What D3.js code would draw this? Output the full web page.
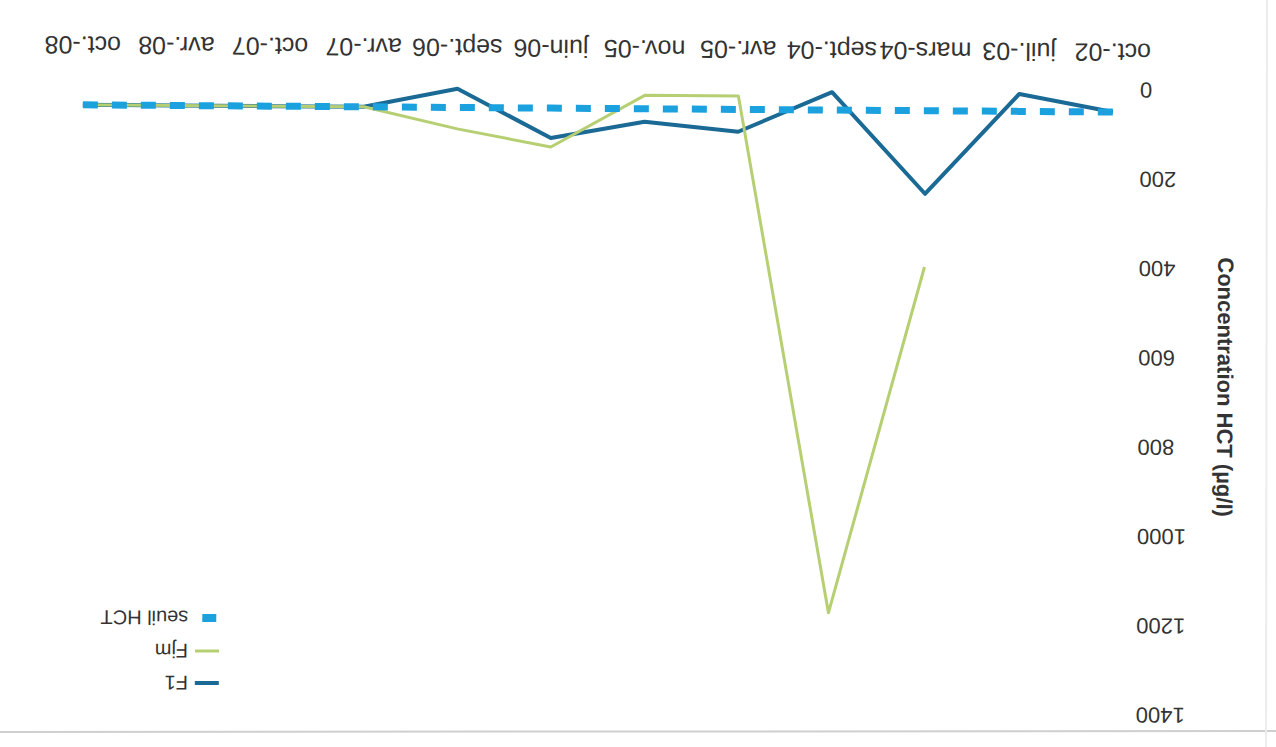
<!DOCTYPE html>
<html>
<head>
<meta charset="utf-8">
<script src="https://cdn.jsdelivr.net/npm/d3@7"></script>
<style>
  html, body { margin: 0; padding: 0; background: #ffffff; }
  svg { display: block; }
</style>
</head>
<body>
<div id="chart"></div>
<script>
// ---- data (read from the scanned, upside-down chart) ----
const categories = ["oct.-02","juil.-03","mars-04","sept.-04","avr.-05","nov.-05","juin-06","sept.-06","avr.-07","oct.-07","avr.-08","oct.-08"];
const seriesF1   = [50, 11, 236, 10, 100, 79, 117, 8, 50, 50, 50, 50];
const seriesFjm  = [null, null, 400, 1176, 20, 20, 137, 98, 50, 50, 50, 50];
const seriesSeuil = [50, 50, 50, 50, 50, 50, 50, 50, 50, 50, 50, 50];
const yTickValues = [0, 200, 400, 600, 800, 1000, 1200, 1400];
const seriesNames = ["F1", "Fjm", "seuil HCT"];
const yTitle = "Concentration HCT (µg/l)";

const W = 1276, H = 747;
const FONT = "'Liberation Sans', Arial, sans-serif";
const TEXT = "#333333";
const C_F1 = "#1b6a95", C_FJM = "#b6cf72", C_SEUIL = "#1ba1dd";

const svg = d3.select("#chart").append("svg")
  .attr("width", W).attr("height", H)
  .style("background", "#ffffff");

// scan frame remnants
svg.append("line").attr("x1", 0).attr("x2", W).attr("y1", 732).attr("y2", 731)
  .attr("stroke", "#cfcfcf").attr("stroke-width", 2);
svg.append("line").attr("x1", 1267).attr("x2", 1266).attr("y1", 0).attr("y2", 747)
  .attr("stroke", "#ececec").attr("stroke-width", 2);

// whole chart is scanned upside down (slightly skewed)
const g = svg.append("g").attr("transform", "rotate(180.4,638,373.5)");

const x = d3.scalePoint().domain(categories).range([165, 1195]).padding(0);
const y = d3.scaleLinear().domain([0, 1400]).range([660.6, 35.5]);

// y axis (labels only)
const yAxis = g.append("g").attr("transform", "translate(146,0)")
  .call(d3.axisLeft(y).tickValues(yTickValues).tickFormat(d3.format("d")).tickSize(0).tickPadding(8));
yAxis.select(".domain").remove();
yAxis.selectAll("text").attr("font-family", FONT).attr("font-size", 22).attr("fill", TEXT);

// x axis (labels only)
const xAxis = g.append("g").attr("transform", "translate(0,681)")
  .call(d3.axisBottom(x).tickSize(0).tickPadding(8));
xAxis.select(".domain").remove();
xAxis.selectAll("text").attr("font-family", FONT).attr("font-size", 25).attr("fill", TEXT);

// y title
g.append("text")
  .attr("transform", "translate(51,364) rotate(-90)")
  .attr("text-anchor", "middle").attr("dominant-baseline", "central")
  .attr("font-family", FONT).attr("font-size", 22).attr("font-weight", "bold")
  .attr("fill", TEXT).text(yTitle);

// lines
const line = d3.line()
  .defined(d => d.v != null)
  .x(d => x(d.c)).y(d => y(d.v));
const toPts = arr => categories.map((c, i) => ({ c, v: arr[i] }));

g.append("path").datum(toPts(seriesF1))
  .attr("d", line).attr("fill", "none")
  .attr("stroke", C_F1).attr("stroke-width", 4)
  .attr("stroke-linejoin", "round").attr("stroke-linecap", "butt");

g.append("path").datum(toPts(seriesFjm))
  .attr("d", line).attr("fill", "none")
  .attr("stroke", C_FJM).attr("stroke-width", 3)
  .attr("stroke-linejoin", "round").attr("stroke-linecap", "butt");

g.append("path").datum(toPts(seriesSeuil))
  .attr("d", line).attr("fill", "none")
  .attr("stroke", C_SEUIL).attr("stroke-width", 7)
  .attr("stroke-dasharray", "15,14");

// legend
const legendRows = [61, 93, 126];
const leg = g.append("g");
seriesNames.forEach((name, i) => {
  const yy = legendRows[i];
  if (i === 0) {
    leg.append("line").attr("x1", 1055).attr("x2", 1079).attr("y1", yy).attr("y2", yy)
      .attr("stroke", C_F1).attr("stroke-width", 4);
  } else if (i === 1) {
    leg.append("line").attr("x1", 1055).attr("x2", 1079).attr("y1", yy).attr("y2", yy)
      .attr("stroke", C_FJM).attr("stroke-width", 3);
  } else {
    leg.append("line").attr("x1", 1058).attr("x2", 1072).attr("y1", yy).attr("y2", yy)
      .attr("stroke", C_SEUIL).attr("stroke-width", 8);
  }
  leg.append("text").attr("x", 1086).attr("y", yy)
    .attr("dominant-baseline", "central")
    .attr("font-family", FONT).attr("font-size", 20).attr("fill", TEXT)
    .text(name);
});
</script>
</body>
</html>
